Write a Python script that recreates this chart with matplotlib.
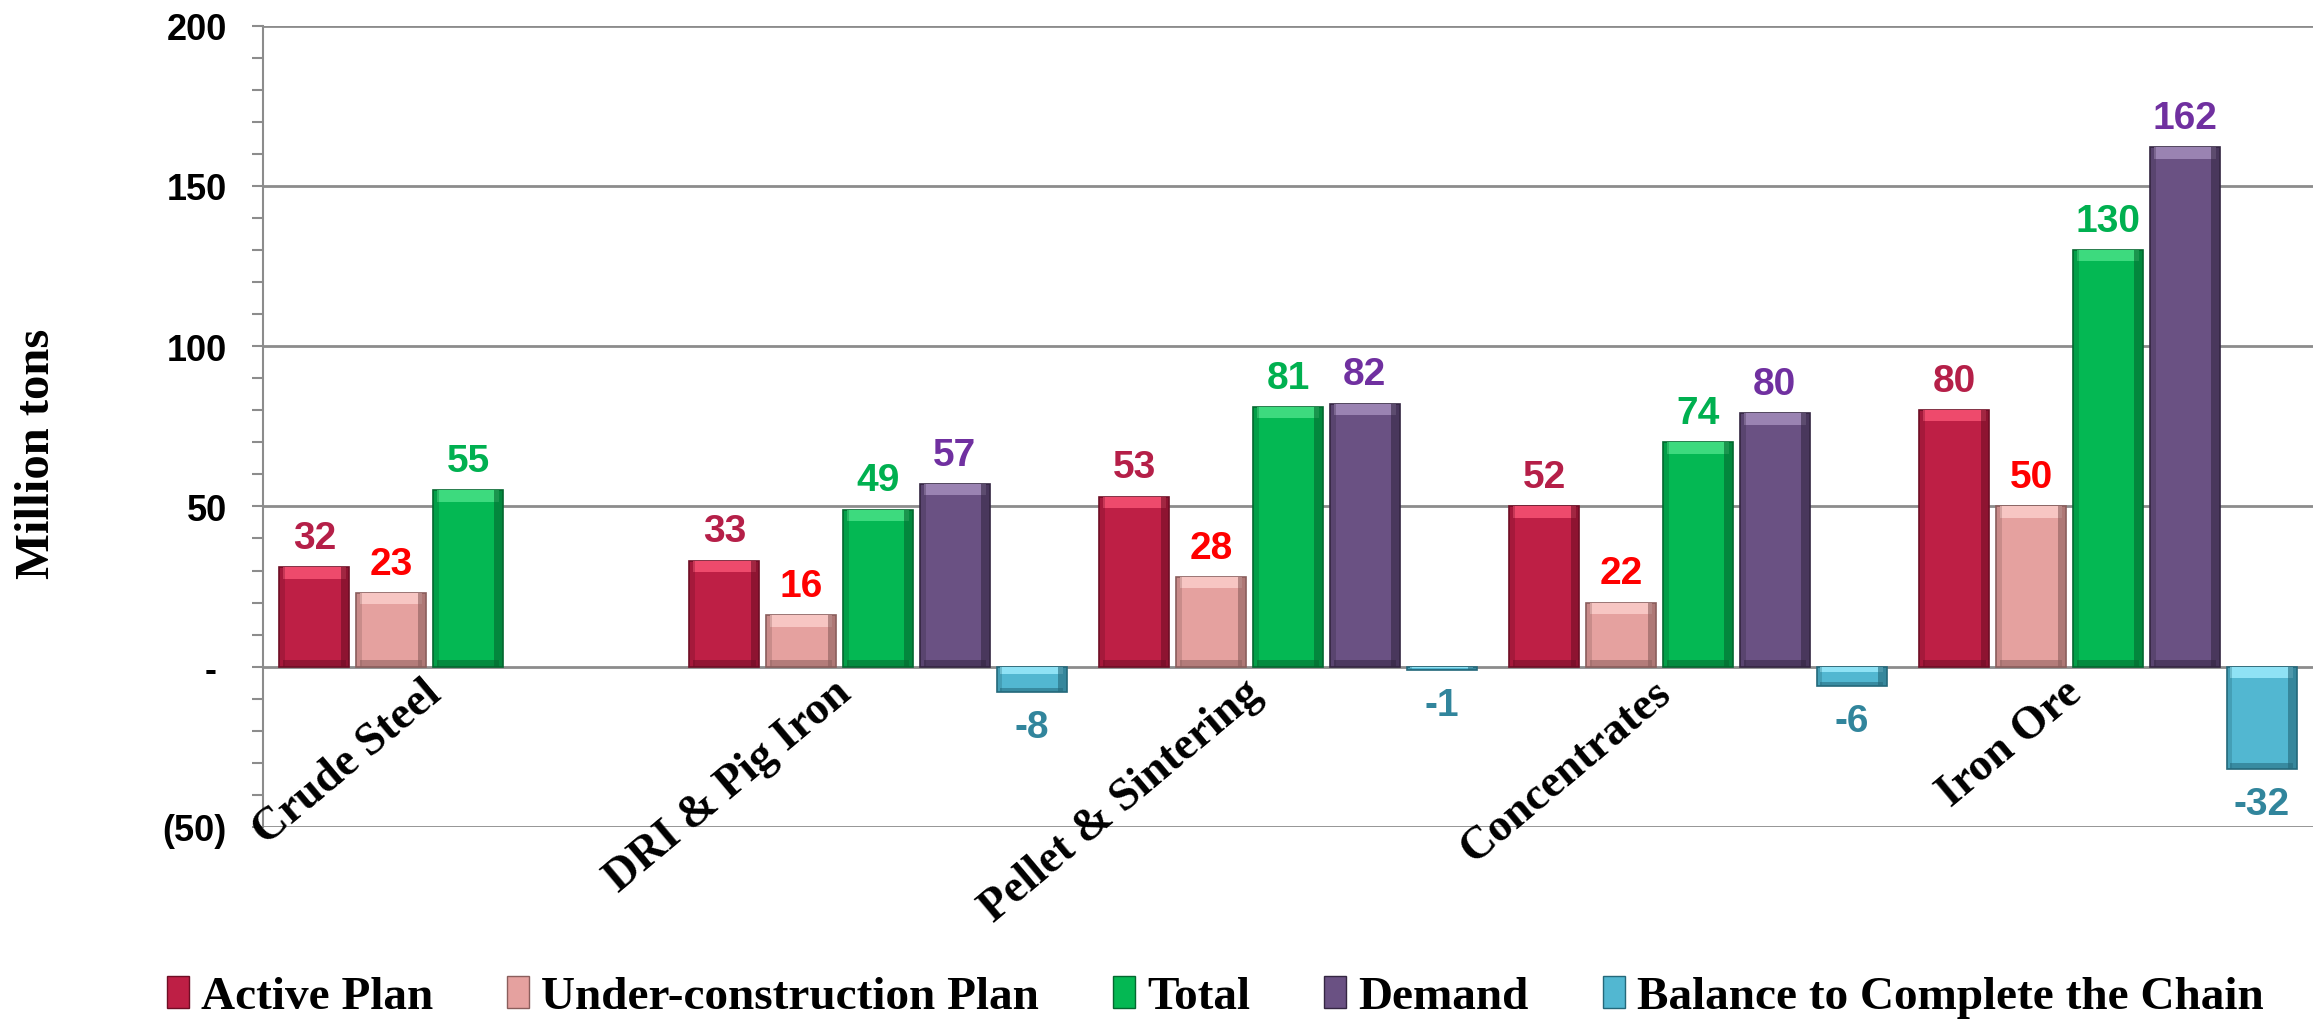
import numpy as np
import matplotlib
matplotlib.use("Agg")
import matplotlib.pyplot as plt
from matplotlib.patches import Patch
from matplotlib.ticker import MultipleLocator

# ---------- DATA ----------
categories = ["Crude Steel", "DRI & Pig Iron", "Pellet & Sintering", "Concentrates", "Iron Ore"]
series = ["Active Plan", "Under-construction Plan", "Total", "Demand", "Balance to Complete the Chain"]

# bar heights as drawn
active = [31, 33, 53, 50, 80]
under_construction = [23, 16, 28, 20, 50]
total = [55, 49, 81, 70, 130]
demand = [np.nan, 57, 82, 79, 162]
balance = [np.nan, -8, -1, -6, -32]

# data labels as printed
active_lbl = ["32", "33", "53", "52", "80"]
under_lbl = ["23", "16", "28", "22", "50"]
total_lbl = ["55", "49", "81", "74", "130"]
demand_lbl = ["", "57", "82", "80", "162"]
balance_lbl = ["", "-8", "-1", "-6", "-32"]

yticks = [-50, 0, 50, 100, 150, 200]
ytick_labels = ["(50)", "- ", "50", "100", "150", "200"]
# --------------------------

values = [active, under_construction, total, demand, balance]
labels = [active_lbl, under_lbl, total_lbl, demand_lbl, balance_lbl]
face = ["#BE1F45", "#E5A19F", "#04B853", "#6A5183", "#52B7D1"]
light = ["#EE4A6C", "#F7C6C3", "#3DDA7E", "#9A83B2", "#8FE2F5"]
dark = ["#6E0E25", "#8A5E5C", "#03672F", "#342642", "#24687A"]
txt_col = ["#B51F48", "#FF0000", "#00B050", "#7030A0", "#31859C"]

fig = plt.figure(figsize=(23.18, 10.2), dpi=100)
ax = fig.add_axes([263 / 2318, 1 - 828 / 1020, (2313 - 263) / 2318, (828 - 26.6) / 1020])

x = np.arange(len(categories))
step = 0.1875
width = 0.17

for i, (vals, lbls) in enumerate(zip(values, labels)):
    v = np.array(vals, dtype=float)
    xs = x + (i - 2) * step
    ax.bar(xs, v, width, color=face[i], edgecolor=dark[i], linewidth=1.2, zorder=3)
    # bevel: light band on top, dark band at the base, dark right side
    band = np.minimum(3.5, np.abs(v) * 0.3)
    top = np.where(v >= 0, v, 0)
    base = np.where(v >= 0, 0, v)
    ax.bar(xs, band, width * 0.9, bottom=top - band, color=light[i], linewidth=0, zorder=4)
    ax.bar(xs, band * 0.6, width * 0.9, bottom=base, color=dark[i], alpha=0.55, linewidth=0, zorder=4)
    ax.bar(xs + width * 0.44, v, width * 0.12, color=dark[i], alpha=0.6, linewidth=0, zorder=4)
    ax.bar(xs - width * 0.46, v, width * 0.08, color=dark[i], alpha=0.3, linewidth=0, zorder=4)
    for xi, vi, lb in zip(xs, v, lbls):
        if np.isnan(vi) or lb == "":
            continue
        if vi >= 0:
            ax.annotate(lb, (xi, vi), xytext=(0, 14), textcoords="offset points",
                        ha="center", va="baseline", fontsize=28, fontweight="bold",
                        family="Liberation Sans", color=txt_col[i], zorder=5)
        else:
            ax.annotate(lb, (xi, vi), xytext=(0, -12), textcoords="offset points",
                        ha="center", va="top", fontsize=28, fontweight="bold",
                        family="Liberation Sans", color=txt_col[i], zorder=5)

ax.set_xlim(-0.5, len(categories) - 0.5)
ax.set_ylim(-50, 200)
ax.set_yticks(yticks)
ax.set_yticklabels(ytick_labels)
ax.yaxis.set_minor_locator(MultipleLocator(10))
ax.tick_params(axis="y", which="both", direction="out", color="#8c8c8c", width=1.5)
ax.tick_params(axis="y", which="major", length=8, pad=18)
ax.tick_params(axis="y", which="minor", length=8)
for t in ax.get_yticklabels():
    t.set_fontsize(26)
    t.set_fontweight("bold")
    t.set_family("Liberation Sans")
ax.set_xticks([])
ax.grid(axis="y", color="#8c8c8c", linewidth=2, zorder=0)
for s in ["top", "right", "bottom"]:
    ax.spines[s].set_visible(False)
ax.spines["left"].set_color("#8c8c8c")
ax.spines["left"].set_linewidth(1.5)

for xi, cat in zip(x, categories):
    ax.text(xi - 0.11, -1.5, cat, rotation=40, rotation_mode="anchor",
            ha="right", va="top", fontsize=33, fontweight="bold",
            family="Liberation Serif", zorder=6)

fig.text(37 / 2318, 1 - 454 / 1020, "Million tons", rotation=90, ha="center", va="center",
         fontsize=35, fontweight="bold", family="Liberation Serif")

handles = [Patch(facecolor=face[i], edgecolor=dark[i], label=series[i]) for i in range(5)]
fig.legend(handles=handles, loc="center", bbox_to_anchor=(1215 / 2318, 1 - 998 / 1020),
           ncol=5, frameon=False, prop={"family": "Liberation Serif", "weight": "bold", "size": 34},
           handlelength=0.47, handleheight=0.68, handletextpad=0.25, columnspacing=1.57)

fig.savefig("out.png", dpi=100)
